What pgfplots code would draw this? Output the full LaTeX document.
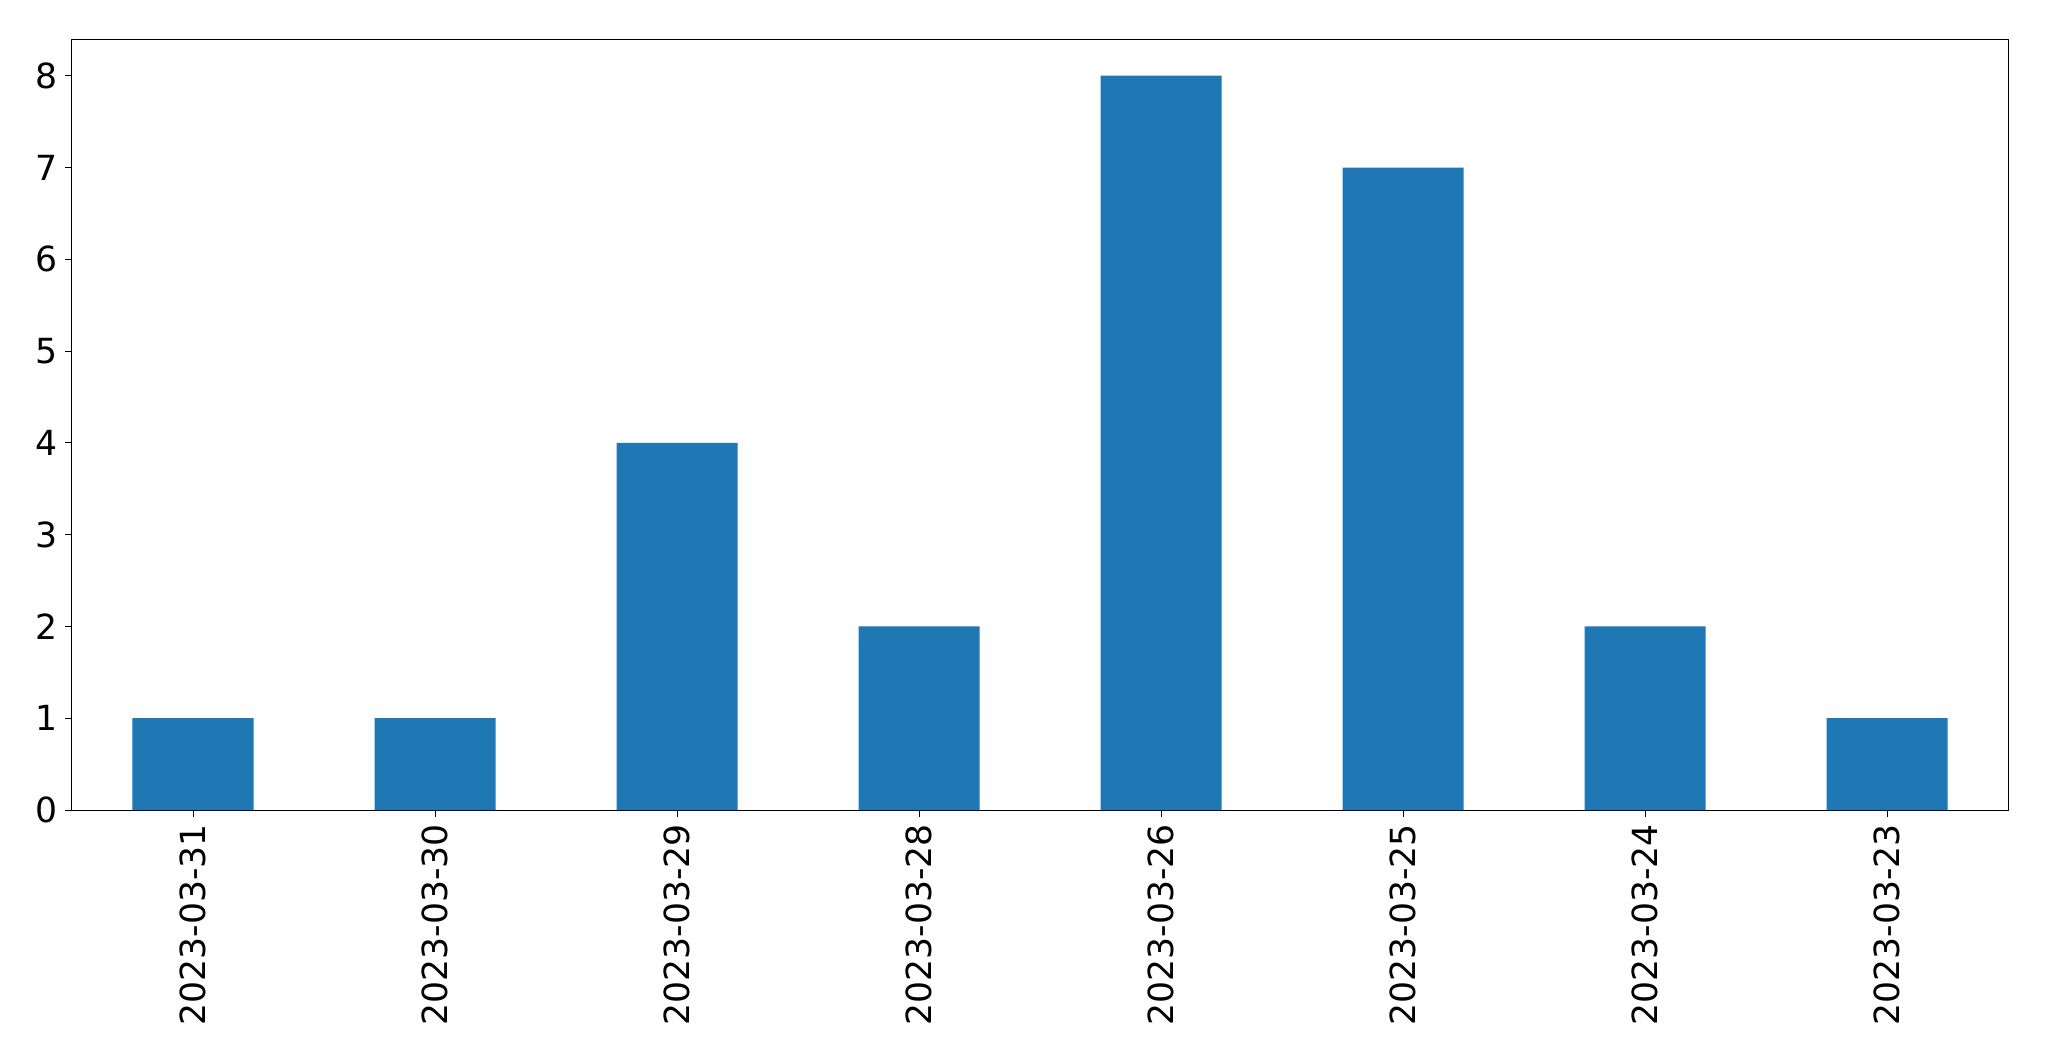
\documentclass[border=0pt]{standalone}
\usepackage{fontspec}
\setmainfont{DejaVu Sans}
\usepackage{pgfplots}
\pgfplotsset{compat=1.18}
\definecolor{mplblue}{HTML}{1F77B4}
\begin{document}
\begin{tikzpicture}
\begin{axis}[
  at={(0,0)}, anchor=south west,
  scale only axis,
  width=968pt, height=385.5pt,
  xmin=-0.5, xmax=7.5, ymin=0, ymax=8.4,
  xtick={0,...,7},
  xticklabels={2023-03-31,2023-03-30,2023-03-29,2023-03-28,2023-03-26,2023-03-25,2023-03-24,2023-03-23},
  ytick={0,...,8},
  tick align=outside,
  tick pos=left,
  major tick length=3.5pt,
  axis line style={line width=0.5pt},
  every tick/.style={black, line width=0.5pt},
  /pgf/number format/assume math mode=true,
  tick label style={font=\fontsize{17.3}{20}\selectfont},
  xticklabel style={rotate=90, anchor=east},
]
\addplot[ybar, bar width=0.5, fill=mplblue, draw=none] coordinates {
(0,1) (1,1) (2,4) (3,2) (4,8) (5,7) (6,2) (7,1)
};
\end{axis}
\pgfresetboundingbox
\useasboundingbox (-36pt,-125.5pt) rectangle (988.5pt,405pt);
\end{tikzpicture}
\end{document}
